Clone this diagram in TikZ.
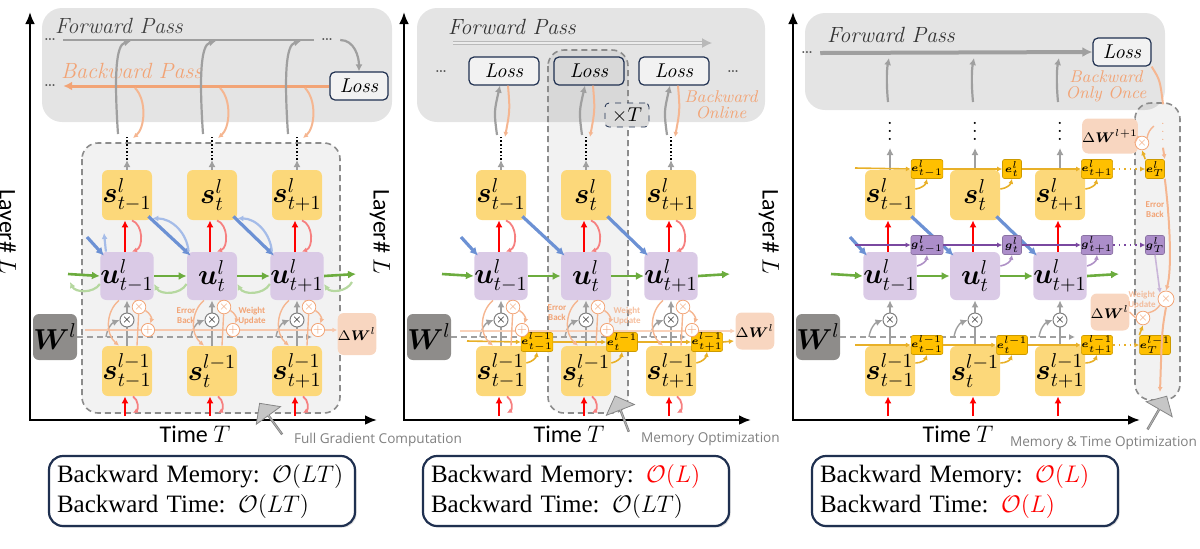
\documentclass[tikz,border=0pt]{standalone}
\usepackage{amsmath}
\usepackage{fontspec}
\setsansfont{Carlito}
\newfontfamily\notefont{Open Sans}
\newfontfamily\costfont{Liberation Serif}
\usetikzlibrary{arrows.meta,shapes.arrows,shadows}

\definecolor{syellow}{RGB}{252,216,122}
\definecolor{upurple}{RGB}{218,202,230}
\definecolor{panelgray}{RGB}{228,228,228}
\definecolor{wgray}{RGB}{142,140,138}
\definecolor{dwpeach}{RGB}{248,214,192}
\definecolor{eorange}{RGB}{255,192,0}
\definecolor{gpurple}{RGB}{172,142,202}
\definecolor{blueln}{RGB}{108,145,212}
\definecolor{lblue}{RGB}{165,188,232}
\definecolor{greenln}{RGB}{108,172,62}
\definecolor{lgreen}{RGB}{182,216,160}
\definecolor{lred}{RGB}{246,128,128}
\definecolor{orangeln}{RGB}{242,164,118}
\definecolor{navy}{RGB}{31,48,80}
\definecolor{notegray}{RGB}{128,128,128}
\definecolor{purpleln}{RGB}{122,72,160}
\definecolor{yellowln}{RGB}{232,176,40}

\tikzset{
  panelbox/.style={fill=panelgray, rounded corners=10pt},
  regionbox/.style={draw=gray!90, dash pattern=on 3pt off 2pt, line width=0.8pt, fill=black, fill opacity=0.05, rounded corners=8pt},
  sbox/.style={fill=syellow, rounded corners=3pt, minimum width=25pt, minimum height=25pt, inner sep=0pt, font=\Large},
  ubox/.style={sbox, fill=upurple, minimum height=24pt},
  wbox/.style={sbox, fill=wgray, minimum width=22pt, minimum height=23pt},
  dwbox/.style={fill=dwpeach, rounded corners=3pt, minimum width=18pt, minimum height=18pt, inner sep=0pt, font=\scriptsize},
  ebox/.style={fill=eorange, draw=eorange!80!black, line width=0.3pt, rounded corners=1pt, minimum size=9.5pt, inner sep=0pt, font=\fontsize{4}{4}\selectfont},
  gbox/.style={ebox, fill=gpurple, draw=gpurple!80!black},
  lossbox/.style={draw=navy, line width=0.6pt, fill=white!50!panelgray, rounded corners=2.5pt, minimum width=29pt, minimum height=14pt, inner sep=0pt, font=\itshape},
  mult/.style={circle, draw=gray, fill=white, line width=0.5pt, minimum size=7pt, inner sep=0pt, font=\fontsize{5}{5}\selectfont},
  omult/.style={circle, draw=orangeln, fill=white, line width=0.4pt, minimum size=5pt, inner sep=0pt, font=\fontsize{4}{4}\selectfont, text=orangeln},
  costbox/.style={draw=navy, line width=1.1pt, fill=white, rounded corners=7pt, text width=145pt, inner xsep=4pt, inner ysep=4pt, align=left, font=\costfont\fontsize{12.5}{15}\selectfont, drop shadow={opacity=0.25, shadow xshift=0.8pt, shadow yshift=-0.8pt}},
  passlbl/.style={font=\fontsize{11}{13}\selectfont\itshape},
  tinylbl/.style={font=\sffamily\bfseries\fontsize{4.5}{5}\selectfont, text=orangeln, align=center},
  notelbl/.style={font=\notefont\fontsize{6.8}{8}\selectfont, text=notegray, anchor=west},
  bigarrow/.style={single arrow, draw=gray!95, fill=gray!45, minimum height=19pt, minimum width=15pt, single arrow head extend=3.5pt, inner sep=0pt},
  axis/.style={line width=1.4pt, {Latex[length=6pt,width=5pt]}-{Latex[length=6pt,width=5pt]}},
  grayarr/.style={gray!75, line width=1.1pt, -{Latex[length=3.5pt,width=3.5pt]}},
  fwdline/.style={gray!75, line width=1.4pt},
  dotlbl/.style={font=\small, text=black!70},
  redarr/.style={red, line width=1.1pt, -{Latex[length=3.5pt,width=3.5pt]}},
  lredarr/.style={lred, line width=0.9pt, -{Latex[length=2.5pt,width=2.5pt]}},
  bluearr/.style={blueln, line width=1.6pt, -{Latex[length=4pt,width=4pt]}},
  lbluearr/.style={lblue, line width=1.1pt, -{Latex[length=3pt,width=3pt]}},
  greenarr/.style={greenln, line width=1.3pt, -{Latex[length=4pt,width=4pt]}},
  lgreenarr/.style={lgreen, line width=1.1pt, -{Latex[length=3pt,width=3pt]}},
  bwdarr/.style={orangeln, line width=1.5pt, -{Latex[length=4.5pt,width=4.5pt]}},
  lorange/.style={orangeln!80, line width=0.7pt},
  lorangearr/.style={lorange, -{Latex[length=2.5pt,width=2.5pt]}},
  wdash/.style={gray!75, dash pattern=on 3pt off 2pt, line width=0.9pt, -{Latex[length=3pt,width=3pt]}},
  yarr/.style={yellowln, line width=0.8pt, -{Latex[length=2.5pt,width=2.5pt]}},
  parr/.style={purpleln, line width=0.8pt, -{Latex[length=2.5pt,width=2.5pt]}},
}

\begin{document}
\begin{tikzpicture}[x=0.5pt, y=-0.5pt]
\useasboundingbox (0,0) rectangle (1200,548);

% Backgrounds
\fill[panelbox] (42,8) rectangle (392,122);
\fill[panelbox] (417,8) rectangle (765,122);
\fill[panelbox] (805,13) rectangle (1165,110);
\draw[regionbox] (82,143) rectangle (340,413);
\draw[regionbox] (548,50) rectangle (628,413);
\draw[regionbox] (1135,103) rectangle (1180,400);

% Layer grid, same in all three panels
\foreach \p/\dx/\ty/\mem/\tim in {A/0/160/{$\mathcal{O}(LT)$}/{$\mathcal{O}(LT)$},
    B/374/160/{\textcolor{red}{$\mathcal{O}(L)$}}/{$\mathcal{O}(LT)$},
    C/763/148/{\textcolor{red}{$\mathcal{O}(L)$}}/{\textcolor{red}{$\mathcal{O}(L)$}}} {
  \begin{scope}[shift={(\dx,0)}]
    \draw[axis] (30,12) |- (377,420);
    \node[rotate=-90, font=\sffamily\large] (layer\p) at (6,232) {Layer\# $L$};
    \node[font=\sffamily\large] (time\p) at (195,434) {Time $T$};
    \node[wbox] (w\p) at (55,337) {$\boldsymbol{W}^{l}$};
    \coordinate (wend\p) at (312,337);
    \draw[wdash] (w\p.east) -- (wend\p);
    \foreach \c/\t in {1/t-1, 2/t, 3/t+1} {
      \node[sbox] (s\p\c) at (42+85*\c,195) {$\boldsymbol{s}^{l}_{\t}$};
      \node[ubox] (u\p\c) at (42+85*\c,276) {$\boldsymbol{u}^{l}_{\t}$};
      \node[sbox] (p\p\c) at (42+85*\c,371) {$\boldsymbol{s}^{l-1}_{\t}$};
      \coordinate (top\p\c) at (42+85*\c,\ty);
      \coordinate (in\p\c) at (40+85*\c,416);
      \coordinate (wb\p\c) at (21+85*\c,337);
    }
    \foreach \c in {1,2,3} {
      \draw[grayarr] (p\p\c.north) -- (u\p\c.south);
      \draw[grayarr] (s\p\c.north) -- (top\p\c);
      \draw[redarr] ([xshift=-1pt]u\p\c.north) -- ([xshift=-1pt]s\p\c.south);
      \draw[redarr] (in\p\c) -- (in\p\c |- p\p\c.south);
      \node[mult] (m\p\c) at (42+85*\c,320) {$\times$};
      \draw[grayarr, line width=0.7pt] (wb\p\c) to[bend left=30] (m\p\c.west);
    }
    % membrane potential through time
    \coordinate (grin\p) at (68,274);
    \coordinate (grout\p) at (356,274);
    \draw[greenarr] (grin\p) -- (u\p1.west);
    \draw[greenarr] (u\p1.east) -- (u\p2.west);
    \draw[greenarr] (u\p2.east) -- (u\p3.west);
    \draw[greenarr] (u\p3.east) -- (grout\p);
    % reset from spikes
    \coordinate (bin\p) at (87,237);
    \draw[bluearr] (bin\p) -- ([shift={(2pt,-2pt)}]u\p1.north west);
    \draw[bluearr] ([shift={(-2pt,2pt)}]s\p1.south east) -- ([shift={(2pt,-2pt)}]u\p2.north west);
    \draw[bluearr] ([shift={(-2pt,2pt)}]s\p2.south east) -- ([shift={(2pt,-2pt)}]u\p3.north west);
    \node[costbox] (cost\p) at (202,491) {Backward Memory: \mem\\Backward Time: \tim};
  \end{scope}
}

% (a) Standard BPTT
\node[passlbl, text=black!75, anchor=west] (fwdA) at (48,26) {Forward Pass};
\node[dotlbl] (fdotA1) at (50,40) {\dots};
\node[dotlbl] (fdotA2) at (327,40) {\dots};
\node[lossbox] (lossA) at (359,86) {Loss};
\draw[fwdline] (fdotA1.east) -- (fdotA2.west);
\draw[grayarr] (fdotA2.east) to[out=0, in=90] (lossA.north);
\node[passlbl, text=orangeln, anchor=west] (bwdA) at (54,71) {Backward Pass};
\node[dotlbl] (bdotA) at (50,86) {\dots};
\draw[bwdarr] (lossA.west) -- (bdotA.east);
\foreach \c in {1,2,3} {
  \coordinate (upA\c) at (33+85*\c,134);
  \coordinate (hitA\c) at (46+85*\c,41);
  \coordinate (offA\c) at (50+85*\c,88);
  \coordinate (dnA\c) at (48+85*\c,138);
  \coordinate (dotA\c) at (42+85*\c,137);
  \draw[grayarr] (upA\c) .. controls (29+85*\c,75) and (31+85*\c,45) .. (hitA\c);
  \draw[lorangearr, line width=1pt] (offA\c) .. controls (62+85*\c,100) and (60+85*\c,128) .. (dnA\c);
  \draw[densely dotted, line width=0.8pt] (topA\c) -- (dotA\c);
}
\foreach \a/\b in {1/2, 2/3} {
  \draw[lbluearr] ([xshift=1pt]uA\b.north west) to[out=95, in=0] ([yshift=1pt]sA\a.south east);
  \draw[lgreenarr] ([yshift=-4pt]uA\b.west) to[bend left=60] ([yshift=-4pt]uA\a.east);
}
\coordinate (lbA) at (104,233);
\draw[lbluearr] ([xshift=3pt]uA1.north west) -- (lbA);
\coordinate (lgA0) at (70,282);
\coordinate (lgA4) at (352,282);
\draw[lgreenarr] ([yshift=-4pt]uA1.west) to[bend left=60] (lgA0);
\draw[lgreenarr] (lgA4) to[bend left=60] ([yshift=-4pt]uA3.east);
\node[dwbox, minimum width=17.5pt, minimum height=21pt] (dwA) at (357,334) {$\Delta\boldsymbol{W}^{l}$};
\coordinate (wlA) at (85,330);
\draw[lorangearr, line width=1pt, orangeln!60] (wlA) -- (wlA -| dwA.west);
\node[tinylbl] (errA) at (186,316) {Error\\Back};
\node[tinylbl] (wupA) at (252,316) {Weight\\Update};
\node[notelbl] (noteA) at (287,440) {Full Gradient Computation};
\node[bigarrow, rotate=126] (barA) at (271,419) {};

% (b) Online training
\node[passlbl, text=black!80, anchor=west] (fwdB) at (441,27) {Forward Pass};
\coordinate (fsB) at (453,43);
\coordinate (feB) at (712,43);
\draw[gray!55, double=gray!15, double distance=1pt, line width=0.6pt, -{Latex[length=5pt,width=5pt]}] (fsB) -- (feB);
\foreach \c/\f in {1/white!50!panelgray, 2/gray!30, 3/white!50!panelgray}
  \node[lossbox, minimum width=35pt, fill=\f] (lossB\c) at (419+85*\c,71) {Loss};
\node[dotlbl] (ldotB1) at (441,72) {\dots};
\node[dotlbl] (ldotB2) at (733,72) {\dots};
\node[draw=navy, dashed, fill=gray!28, rounded corners=2pt, minimum width=22pt, minimum height=12pt, inner sep=0pt] (repB) at (627,115) {$\times T$};
\node[text=orangeln, align=center, font=\fontsize{8.5}{8}\selectfont\itshape] (bonB) at (721,105) {Backward\\Online};
\foreach \c in {1,2,3} {
  \coordinate (dotB\c) at (416+85*\c,137);
  \coordinate (upB\c) at (412+85*\c,135);
  \coordinate (dnB\c) at (420+85*\c,137);
  \draw[densely dotted, line width=0.8pt] (topB\c) -- (dotB\c);
  \draw[grayarr] (upB\c) .. controls (409+85*\c,112) .. ([xshift=-2pt]lossB\c.south);
  \draw[lorangearr, line width=1pt] ([xshift=2pt]lossB\c.south) .. controls (425+85*\c,110) .. (dnB\c);
}
\node[dwbox, minimum height=18.5pt] (dwB) at (755,331) {$\Delta\boldsymbol{W}^{l}$};
\coordinate (wlB) at (460,331);
\draw[lorangearr, line width=1pt, orangeln!50] (wlB) -- (dwB.west);
\coordinate (yinB) at (467,341);
\coordinate (youtB) at (734,341);
\foreach \c/\t in {1/{t-1}, 2/t, 3/{t+1}}
  \node[ebox] (eB\c) at (452+85*\c,342) {$\boldsymbol{e}^{l-1}_{\t}$};
\draw[yarr] (yinB) -- (eB1.west);
\draw[yarr] (eB1.east) -- (eB2.west);
\draw[yarr] (eB2.east) -- (eB3.west);
\draw[yarr] (eB3.east) -- (youtB);
\foreach \c in {1,2,3}
  \draw[yarr] ([yshift=4pt]pB\c.east) to[bend right=35] (eB\c.south);
\node[tinylbl] (errB) at (557,313) {Error\\Back};
\node[tinylbl, text opacity=0.7] (wupB) at (627,316) {Weight\\Update};
\node[notelbl] (noteB) at (634,439) {Memory Optimization};
\node[bigarrow, rotate=111] (barB) at (622,414) {};

% error and weight update arcs in (a) and (b)
\foreach \p/\dx in {A/0, B/374} {
  \foreach \c in {1,2,3} {
    \coordinate (lr\p\c) at (\dx+48+85*\c,413);
    \draw[lredarr] ([xshift=2.5pt]s\p\c.south) to[bend left=70] ([xshift=2.5pt]u\p\c.north);
    \draw[lredarr] ([xshift=3pt]p\p\c.south) to[bend left=60] (lr\p\c);
    \node[omult] (om\p\c) at (\dx+54+85*\c,307) {$\times$};
    \node[omult] (op\p\c) at (\dx+63+85*\c,330) {$+$};
    \draw[lorangearr] ([xshift=-4pt]u\p\c.south) to[bend right=50] ([xshift=-4pt]p\p\c.north);
    \draw[lorange] ([xshift=4pt]u\p\c.south) -- (om\p\c);
    \draw[lorangearr] (om\p\c) to[bend left=40] (op\p\c);
    \draw[lorange] ([xshift=5pt]p\p\c.north) -- (om\p\c);
  }
}

% (c) Memory & time optimization
\node[passlbl, text=black!80, anchor=west] (fwdC) at (820,35) {Forward Pass};
\node[dotlbl] (fdotC) at (807,53) {\dots};
\node[lossbox] (lossC) at (1122,52) {Loss};
\draw[gray!75, line width=2pt, -{Latex[length=5pt,width=5pt]}] (fdotC.east) -- (lossC.west);
\node[text=orangeln, align=center, font=\fontsize{8.5}{8}\selectfont\itshape] (bwoC) at (1106,86) {Backward\\Only Once};
\foreach \c in {1,2,3} {
  \coordinate (upC\c) at (803+85*\c,102);
  \coordinate (hitC\c) at (804+85*\c,58);
  \draw[grayarr] (upC\c) .. controls (801+85*\c,80) and (802+85*\c,68) .. (hitC\c);
  \node (vdC\c) at (805+85*\c,125) {$\vdots$};
}
\coordinate (einC) at (855,168);
\coordinate (pinC) at (855,245);
\coordinate (finC) at (855,345);
\foreach \c/\t in {1/{t-1}, 2/t, 3/{t+1}} {
  \node[ebox] (eC\c) at (842+85*\c,169) {$\boldsymbol{e}^{l}_{\t}$};
  \node[gbox] (gC\c) at (842+85*\c,245) {$\boldsymbol{g}^{l}_{\t}$};
  \node[ebox] (fC\c) at (842+85*\c,345) {$\boldsymbol{e}^{l-1}_{\t}$};
}
\node[ebox] (eCT) at (1155,169) {$\boldsymbol{e}^{l}_{T}$};
\node[gbox] (gCT) at (1155,245) {$\boldsymbol{g}^{l}_{T}$};
\node[ebox] (fCT) at (1155,345) {$\boldsymbol{e}^{l-1}_{T}$};
\draw[yarr] (einC) -- (eC1.west);
\draw[yarr] (eC1.east) -- (eC2.west);
\draw[yarr] (eC2.east) -- (eC3.west);
\draw[yarr, dotted] (eC3.east) -- (eCT.west);
\draw[parr] (pinC) -- (gC1.west);
\draw[parr] (gC1.east) -- (gC2.west);
\draw[parr] (gC2.east) -- (gC3.west);
\draw[parr, dotted] (gC3.east) -- (gCT.west);
\draw[yarr] (finC) -- (fC1.west);
\draw[yarr] (fC1.east) -- (fC2.west);
\draw[yarr] (fC2.east) -- (fC3.west);
\draw[yarr, dotted] (fC3.east) -- (fCT.west);
\foreach \c in {1,2,3} {
  \draw[yarr] ([yshift=3pt]sC\c.east) to[bend right=35] (eC\c.south);
  \draw[parr, purpleln!60] ([yshift=5pt]uC\c.east) to[bend right=35] (gC\c.south);
  \draw[yarr] ([yshift=4pt]pC\c.east) to[bend right=35] (fC\c.south);
}
\node[dwbox, minimum height=17.5pt] (dwnextC) at (1110,136) {$\Delta\boldsymbol{W}^{l+1}$};
\node[dwbox, minimum height=18.5pt] (dwC) at (1110,312) {$\Delta\boldsymbol{W}^{l}$};
\node[omult] (omC1) at (1142,143) {$\times$};
\node[omult, minimum size=8pt] (omC2) at (1166,299) {$\times$};
\node[omult] (omC3) at (1143,318) {$\times$};
\node[font=\tiny, text=orangeln] (vdC4) at (1163,126) {$\vdots$};
\coordinate (ebotC) at (1160,392);
\draw[lorange, line width=1pt] (lossC.south east) .. controls (1160,80) .. (vdC4.north);
\draw[lorangearr, line width=1pt] (vdC4.south) .. controls (1163,148) .. (eCT.north east);
\draw[lorangearr, line width=1pt] (eCT.south east) .. controls (1170,220) and (1172,270) .. (omC2.north);
\draw[lorangearr, line width=1pt] (omC2.south) .. controls (1162,330) .. (ebotC);
\draw[parr, purpleln!40] (gCT.south) -- (omC2.north west);
\draw[lorange] (dwnextC.east) -- (omC1.west);
\draw[lorange] (omC1.north east) to[bend left=20] (vdC4.west);
\draw[yarr] (eCT.north west) -- (omC1.south);
\draw[lorange] (dwC.east) -- (omC3.west);
\draw[lorange] (omC3.north east) to[bend right=20] (omC2.south west);
\draw[yarr] (fCT.north west) -- (omC3.south);
\node[tinylbl] (errC) at (1155,210) {Error\\Back};
\node[tinylbl, text opacity=0.7] (wupC) at (1142,300) {Weight\\Update};
\node[notelbl] (noteC) at (1003,443) {Memory \& Time Optimization};
\node[bigarrow, rotate=60] (barC) at (1157,413) {};
\end{tikzpicture}
\end{document}
